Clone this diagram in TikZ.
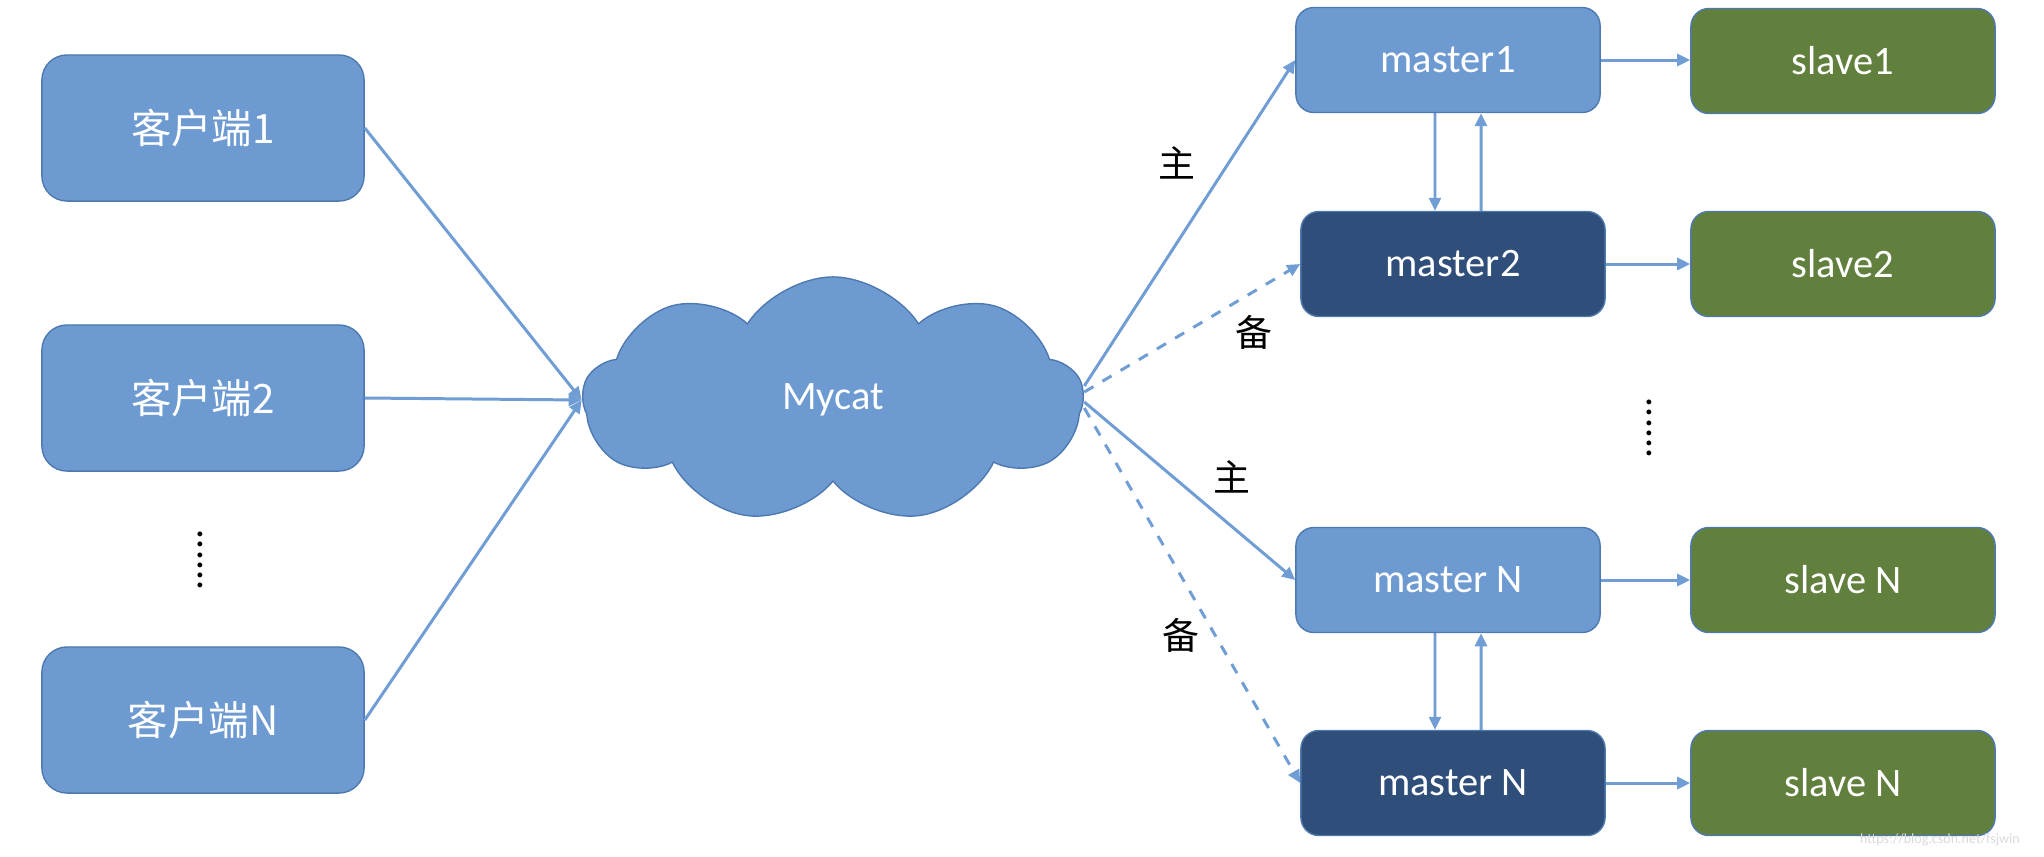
\documentclass[tikz,border=0pt]{standalone}
\usepackage{fontspec}
\setmainfont{Carlito}
\newfontfamily\cjk{Noto Sans CJK SC}
\usetikzlibrary{shapes.symbols,arrows.meta}

\definecolor{boxblue}{RGB}{109,155,209}
\definecolor{boxdark}{RGB}{47,78,121}
\definecolor{boxgreen}{RGB}{97,128,61}
\definecolor{edgeblue}{RGB}{78,121,176}
\definecolor{linkblue}{RGB}{111,157,212}

\tikzset{
	client/.style={draw=edgeblue, fill=boxblue, rounded corners=0.25cm, minimum width=3.22cm, minimum height=1.46cm, text=white, font=\cjk\fontsize{11.5}{13}\selectfont},
	master/.style={draw=edgeblue, fill=boxblue, rounded corners=0.18cm, minimum width=3.04cm, minimum height=1.05cm, text=white, font=\fontsize{11.5}{13}\selectfont},
	backup/.style={master, fill=boxdark},
	slave/.style={master, fill=boxgreen},
	link/.style={draw=linkblue, line width=0.85pt, -{Triangle[length=0.13cm, width=0.12cm]}},
	tag/.style={font=\cjk\fontsize{10.5}{12}\selectfont},
}

\begin{document}
\begin{tikzpicture}[x=0.01cm, y=-0.01cm]
		\useasboundingbox (0,0) rectangle (2044,857);
		
		% Création des nœuds
		\node[client] (C1) at (203,128) {客户端1};
		\node[client] (C2) at (203,398) {客户端2};
		\node[client] (CN) at (203,720) {客户端N};
		\node[rotate=90, font=\fontsize{11.5}{13}\selectfont] (dotsL) at (200,560) {......};
		
		\node[cloud, cloud puffs=9, cloud puff arc=115, aspect=2.1, minimum width=5cm, minimum height=2.46cm, draw=edgeblue, fill=boxblue, text=white, font=\fontsize{11.5}{13}\selectfont] (mycat) at (833,400) {Mycat};
		
		\node[master] (M1) at (1448,60) {master1};
		\node[backup] (M2) at (1453,264) {master2};
		\node[master] (MN) at (1448,580) {master N};
		\node[backup] (MNb) at (1453,783) {master N};
		
		\node[slave] (S1) at (1843,61) {slave1};
		\node[slave] (S2) at (1843,264) {slave2};
		\node[slave] (SN) at (1843,580) {slave N};
		\node[slave] (SNb) at (1843,783) {slave N};
		\node[rotate=90, font=\fontsize{11.5}{13}\selectfont] (dotsR) at (1649,428) {......};
		
		\node[tag] (zhu1) at (1177,163) {主};
		\node[tag] (bei1) at (1254,332) {备};
		\node[tag] (zhu2) at (1232,477) {主};
		\node[tag] (bei2) at (1181,635) {备};
		
		\node[text=black!15, font=\fontsize{4}{5}\selectfont] (mark) at (1940,840) {https://blog.csdn.net/fsjwin};
		
		% Dessin des flèches
		\draw[link] (C1.east) -- (mycat.west);
		\draw[link] (C2.east) -- (mycat.west);
		\draw[link] (CN.east) -- (mycat.west);
		
		\draw[link] ([yshift=0.14cm]mycat.east) -- (M1.west);
		\draw[link, dashed] ([yshift=0.08cm]mycat.east) -- (M2.west);
		\draw[link] ([yshift=-0.02cm]mycat.east) -- (MN.west);
		\draw[link, dashed] ([yshift=-0.08cm]mycat.east) -- (MNb.west);
		
		\draw[link] ([xshift=-0.13cm]M1.south) -- ([xshift=-0.18cm]M2.north);
		\draw[link] ([xshift=0.28cm]M2.north) -- ([xshift=0.33cm]M1.south);
		\draw[link] ([xshift=-0.13cm]MN.south) -- ([xshift=-0.18cm]MNb.north);
		\draw[link] ([xshift=0.28cm]MNb.north) -- ([xshift=0.33cm]MN.south);
		
		\draw[link] (M1.east) -- (M1.east -| S1.west);
		\draw[link] (M2.east) -- (M2.east -| S2.west);
		\draw[link] (MN.east) -- (MN.east -| SN.west);
		\draw[link] (MNb.east) -- (MNb.east -| SNb.west);
	\end{tikzpicture}
\end{document}
